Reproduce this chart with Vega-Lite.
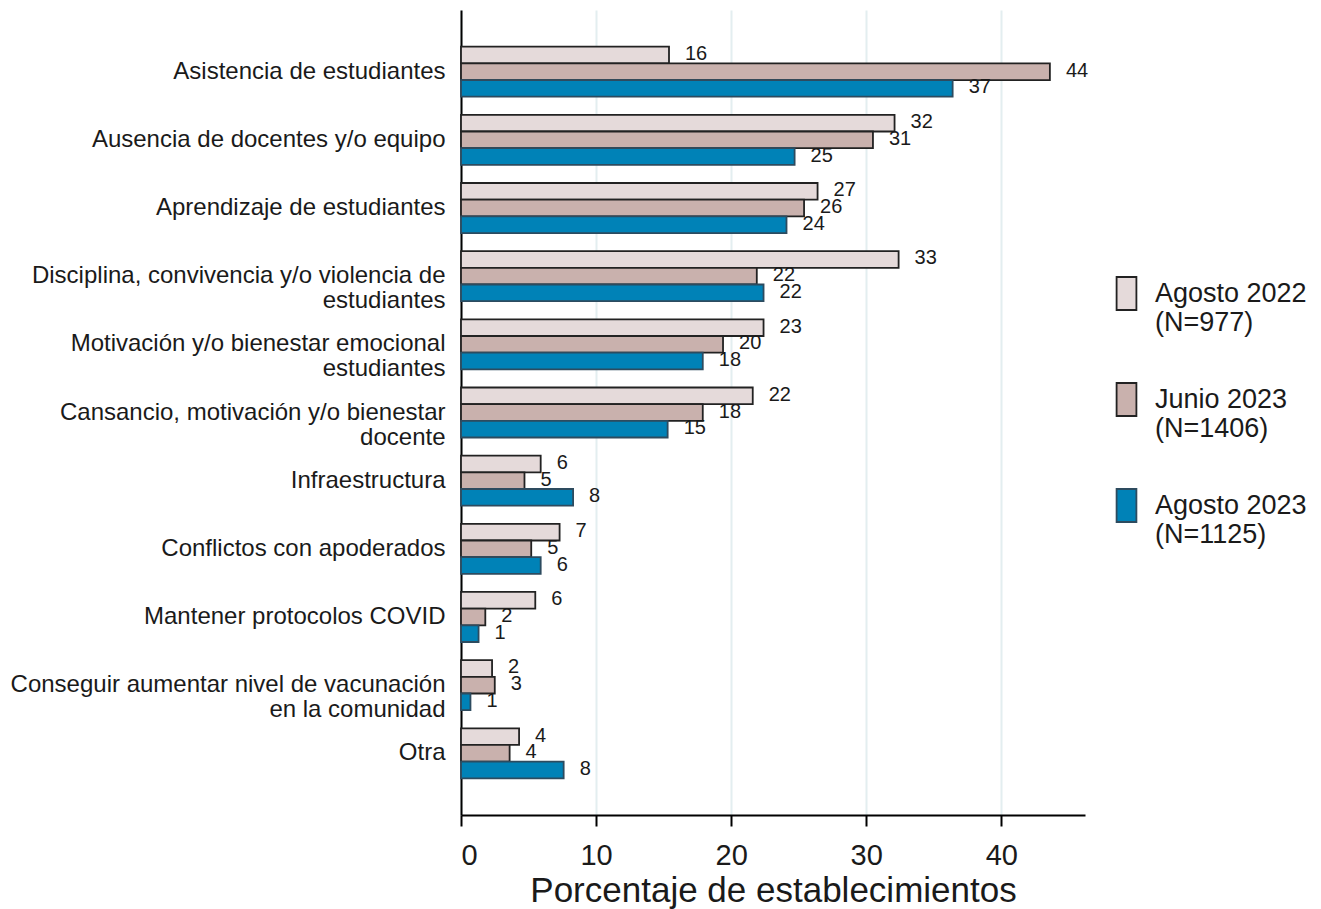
{
  "$schema": "https://vega.github.io/schema/vega-lite/v6.json",
  "autosize": {"type": "none"},
  "padding": {"left": 461, "top": 10, "right": 236, "bottom": 94},
  "width": 624,
  "height": 805,
  "background": "white",
  "config": {
    "font": "Liberation Sans",
    "view": {"stroke": null}
  },
  "data": {
    "values": [
      {"cat": "Asistencia de estudiantes", "series": "Agosto 2022|(N=977)", "value": 15.4, "label": "16"},
      {"cat": "Asistencia de estudiantes", "series": "Junio 2023|(N=1406)", "value": 43.6, "label": "44"},
      {"cat": "Asistencia de estudiantes", "series": "Agosto 2023|(N=1125)", "value": 36.4, "label": "37"},
      {"cat": "Ausencia de docentes y/o equipo", "series": "Agosto 2022|(N=977)", "value": 32.1, "label": "32"},
      {"cat": "Ausencia de docentes y/o equipo", "series": "Junio 2023|(N=1406)", "value": 30.5, "label": "31"},
      {"cat": "Ausencia de docentes y/o equipo", "series": "Agosto 2023|(N=1125)", "value": 24.7, "label": "25"},
      {"cat": "Aprendizaje de estudiantes", "series": "Agosto 2022|(N=977)", "value": 26.4, "label": "27"},
      {"cat": "Aprendizaje de estudiantes", "series": "Junio 2023|(N=1406)", "value": 25.4, "label": "26"},
      {"cat": "Aprendizaje de estudiantes", "series": "Agosto 2023|(N=1125)", "value": 24.1, "label": "24"},
      {"cat": "Disciplina, convivencia y/o violencia de|estudiantes", "series": "Agosto 2022|(N=977)", "value": 32.4, "label": "33"},
      {"cat": "Disciplina, convivencia y/o violencia de|estudiantes", "series": "Junio 2023|(N=1406)", "value": 21.9, "label": "22"},
      {"cat": "Disciplina, convivencia y/o violencia de|estudiantes", "series": "Agosto 2023|(N=1125)", "value": 22.4, "label": "22"},
      {"cat": "Motivación y/o bienestar emocional|estudiantes", "series": "Agosto 2022|(N=977)", "value": 22.4, "label": "23"},
      {"cat": "Motivación y/o bienestar emocional|estudiantes", "series": "Junio 2023|(N=1406)", "value": 19.4, "label": "20"},
      {"cat": "Motivación y/o bienestar emocional|estudiantes", "series": "Agosto 2023|(N=1125)", "value": 17.9, "label": "18"},
      {"cat": "Cansancio, motivación y/o bienestar|docente", "series": "Agosto 2022|(N=977)", "value": 21.6, "label": "22"},
      {"cat": "Cansancio, motivación y/o bienestar|docente", "series": "Junio 2023|(N=1406)", "value": 17.9, "label": "18"},
      {"cat": "Cansancio, motivación y/o bienestar|docente", "series": "Agosto 2023|(N=1125)", "value": 15.3, "label": "15"},
      {"cat": "Infraestructura", "series": "Agosto 2022|(N=977)", "value": 5.9, "label": "6"},
      {"cat": "Infraestructura", "series": "Junio 2023|(N=1406)", "value": 4.7, "label": "5"},
      {"cat": "Infraestructura", "series": "Agosto 2023|(N=1125)", "value": 8.3, "label": "8"},
      {"cat": "Conflictos con apoderados", "series": "Agosto 2022|(N=977)", "value": 7.3, "label": "7"},
      {"cat": "Conflictos con apoderados", "series": "Junio 2023|(N=1406)", "value": 5.2, "label": "5"},
      {"cat": "Conflictos con apoderados", "series": "Agosto 2023|(N=1125)", "value": 5.9, "label": "6"},
      {"cat": "Mantener protocolos COVID", "series": "Agosto 2022|(N=977)", "value": 5.5, "label": "6"},
      {"cat": "Mantener protocolos COVID", "series": "Junio 2023|(N=1406)", "value": 1.8, "label": "2"},
      {"cat": "Mantener protocolos COVID", "series": "Agosto 2023|(N=1125)", "value": 1.3, "label": "1"},
      {"cat": "Conseguir aumentar nivel de vacunación|en la comunidad", "series": "Agosto 2022|(N=977)", "value": 2.3, "label": "2"},
      {"cat": "Conseguir aumentar nivel de vacunación|en la comunidad", "series": "Junio 2023|(N=1406)", "value": 2.5, "label": "3"},
      {"cat": "Conseguir aumentar nivel de vacunación|en la comunidad", "series": "Agosto 2023|(N=1125)", "value": 0.7, "label": "1"},
      {"cat": "Otra", "series": "Agosto 2022|(N=977)", "value": 4.3, "label": "4"},
      {"cat": "Otra", "series": "Junio 2023|(N=1406)", "value": 3.6, "label": "4"},
      {"cat": "Otra", "series": "Agosto 2023|(N=1125)", "value": 7.6, "label": "8"}
    ]
  },
  "encoding": {
    "y": {
      "field": "cat", "type": "nominal", "sort": null,
      "scale": {"paddingInner": 0.266, "paddingOuter": 0.538},
      "axis": {
        "title": null, "ticks": false, "labelFontSize": 24, "labelColor": "#1a1a1a",
        "labelPadding": 16, "labelLimit": 500, "labelLineHeight": 25,
        "labelExpr": "split(datum.value, '|')",
        "domainColor": "#000000", "domainWidth": 2, "grid": false
      }
    },
    "yOffset": {
      "field": "series", "type": "nominal", "sort": null,
      "scale": {"paddingInner": 0, "paddingOuter": 0}
    },
    "x": {
      "field": "value", "type": "quantitative",
      "scale": {"domain": [0, 46.2], "nice": false, "zero": true},
      "axis": {
        "title": "Porcentaje de establecimientos", "titleFontSize": 35, "titleFontWeight": "normal",
        "titleColor": "#1a1a1a", "titlePadding": 3,
        "values": [0, 10, 20, 30, 40], "labelFontSize": 29, "labelColor": "#1a1a1a",
        "labelPadding": 15, "tickSize": 11, "tickColor": "#000000", "tickWidth": 2,
        "domainColor": "#000000", "domainWidth": 2,
        "grid": true, "gridColor": "#e3eef0", "gridWidth": 2
      }
    }
  },
  "layer": [
    {
      "mark": {"type": "bar"},
      "encoding": {
        "fill": {
          "field": "series", "type": "nominal", "sort": null,
          "scale": {"range": ["#e5dada", "#c9b1ad", "#0082b7"]},
          "legend": {
            "title": null, "orient": "none", "legendX": 648, "legendY": 266,
            "labelExpr": "split(datum.value, '|')", "labelFontSize": 27, "labelColor": "#1a1a1a",
            "labelLineHeight": 24, "labelLimit": 300, "labelOffset": 11,
            "symbolType": "M-0.6,-1 L0.6,-1 L0.6,1 L-0.6,1 Z", "symbolSize": 1090,
            "rowPadding": 43, "symbolStrokeWidth": 2, "labelBaseline": "middle"
          }
        },
        "stroke": {
          "field": "series", "type": "nominal", "sort": null,
          "scale": {"range": ["#222222", "#222222", "#2d4b5f"]},
          "legend": null
        },
        "strokeWidth": {
          "field": "series", "type": "nominal", "sort": null,
          "scale": {"range": [1.8, 1.8, 3]},
          "legend": null
        }
      }
    },
    {
      "mark": {"type": "text", "align": "left", "baseline": "middle", "dx": 16, "dy": -1, "fontSize": 20, "color": "#1a1a1a"},
      "encoding": {
        "text": {"field": "label"}
      }
    }
  ]
}
